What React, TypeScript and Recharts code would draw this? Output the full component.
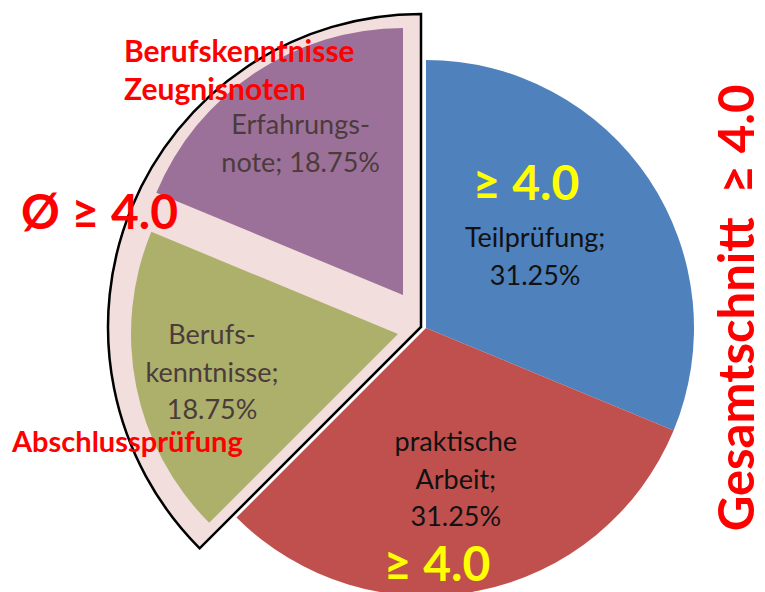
import React from "react";
import { PieChart, Pie, Cell } from "recharts";

const categories = ["Teilprüfung", "praktische Arbeit", "Berufskenntnisse", "Erfahrungsnote"];
const shares = [31.25, 31.25, 18.75, 18.75];
const sliceColors = ["#4F81BD", "#C0504D", "#ADB06B", "#9B7199"];
const labelHeads: string[][] = [["Teilprüfung;"], ["praktische", "Arbeit;"], ["Berufs-", "kenntnisse;"], ["Erfahrungs-"]];
const percentJoinedWithLast = [false, false, false, true];
const groupNames = ["Teil- und praktische Prüfung", "Abschlussprüfung"];

const pct = (v: number) => `${v.toFixed(2)}%`;

const rows = categories.map((name, i) => ({ name, value: shares[i] }));
const groupRows = [
  { name: groupNames[0], value: shares[0] + shares[1] },
  { name: groupNames[1], value: shares[2] + shares[3] },
];

const FONT = "Lato, 'Open Sans', sans-serif";
const RAD = Math.PI / 180;

function labelLinesFor(i: number): string[] {
  const heads = labelHeads[i];
  if (percentJoinedWithLast[i]) {
    return [...heads, `note; ${pct(shares[i])}`];
  }
  return [...heads, pct(shares[i])];
}

const makeLabel = (visible: number[], factors: Record<number, number>, color: string) => (props: any) => {
  const { cx, cy, midAngle, outerRadius, index } = props;
  if (!visible.includes(index)) return null;
  const r = outerRadius * factors[index];
  const x = cx + r * Math.cos(-midAngle * RAD);
  const y = cy + r * Math.sin(-midAngle * RAD);
  const lines = labelLinesFor(index);
  const lh = 37.5;
  const startY = y - ((lines.length - 1) * lh) / 2;
  return (
    <text
      key={`lbl-${index}`}
      x={x}
      y={startY}
      textAnchor="middle"
      dominantBaseline="central"
      fill={color}
      fontFamily={FONT}
      fontSize={27}
    >
      {lines.map((l, k) => (
        <tspan key={k} x={x} y={startY + k * lh}>
          {l}
        </tspan>
      ))}
    </text>
  );
};

const Annotations = () => (
  <svg
    width={765}
    height={592}
    style={{ position: "absolute", left: 0, top: 0, pointerEvents: "none" }}
  >
    <g fontFamily={FONT} fontWeight={700}>
      <text x={124} y={62} fill="#FF0000" fontSize={30}>Berufskenntnisse</text>
      <text x={124} y={100} fill="#FF0000" fontSize={30}>Zeugnisnoten</text>
      <text x={21} y={229} fill="#FF0000" fontSize={48}>Ø ≥ 4.0</text>
      <text x={12} y={452} fill="#FF0000" fontSize={29}>Abschlussprüfung</text>
      <text x={526} y={200} fill="#FFFF00" fontSize={48} textAnchor="middle">≥ 4.0</text>
      <text x={437} y={581} fill="#FFFF00" fontSize={48} textAnchor="middle">≥ 4.0</text>
      <text
        x={754}
        y={308}
        fill="#FF0000"
        fontSize={49}
        textAnchor="middle"
        transform="rotate(-90 754 308)"
        style={{ whiteSpace: "pre" }}
      >
        {"Gesamtschnitt  ≥ 4.0"}
      </text>
    </g>
  </svg>
);

export default function App() {
  return (
    <div style={{ position: "absolute", left: 0, top: 0, width: 765, height: 592, background: "#fff" }}>
      <PieChart width={765} height={592} margin={{ top: 0, right: 0, bottom: 0, left: 0 }}>
        <Pie
          data={groupRows}
          dataKey="value"
          cx={421}
          cy={327}
          outerRadius={313}
          startAngle={90}
          endAngle={-270}
          isAnimationActive={false}
          labelLine={false}
        >
          <Cell fill="none" stroke="none" />
          <Cell fill="#F2DEDD" stroke="#000" strokeWidth={2.5} />
        </Pie>
        <Pie
          data={rows}
          dataKey="value"
          cx={426}
          cy={328}
          outerRadius={268}
          startAngle={90}
          endAngle={-270}
          isAnimationActive={false}
          labelLine={false}
          label={makeLabel([0, 1], { 0: 0.49, 1: 0.57 }, "#111")}
        >
          {rows.map((r, i) => (
            <Cell key={r.name} fill={i < 2 ? sliceColors[i] : "none"} stroke="none" />
          ))}
        </Pie>
        <Pie
          data={rows}
          dataKey="value"
          cx={403}
          cy={295}
          outerRadius={267}
          startAngle={90}
          endAngle={-270}
          isAnimationActive={false}
          labelLine={false}
          label={makeLabel([3], { 3: 0.69 }, "#4B3B3B")}
        >
          {rows.map((r, i) => (
            <Cell key={r.name} fill={i === 3 ? sliceColors[i] : "none"} stroke="none" />
          ))}
        </Pie>
        <Pie
          data={rows}
          dataKey="value"
          cx={398}
          cy={334}
          outerRadius={267}
          startAngle={90}
          endAngle={-270}
          isAnimationActive={false}
          labelLine={false}
          label={makeLabel([2], { 2: 0.71 }, "#4B3B3B")}
        >
          {rows.map((r, i) => (
            <Cell key={r.name} fill={i === 2 ? sliceColors[i] : "none"} stroke="none" />
          ))}
        </Pie>
      </PieChart>
      <Annotations />
    </div>
  );
}
